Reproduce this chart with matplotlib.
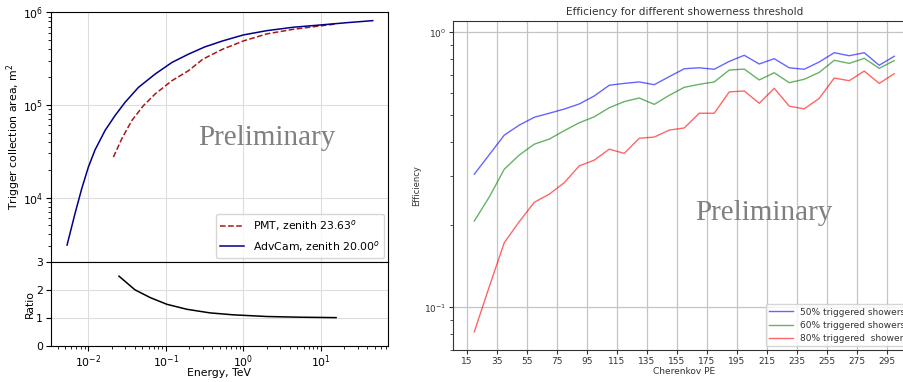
import matplotlib
matplotlib.use("Agg")
import matplotlib.pyplot as plt
import numpy as np

# ---------------- data: left panel ----------------
adv_energy = [0.00531, 0.00673, 0.00822, 0.0100, 0.01222, 0.01644, 0.0221, 0.0298,
              0.0443, 0.0728, 0.1197, 0.196, 0.316, 0.537, 1.007, 2.02, 4.46, 9.86,
              21.8, 47.0]
adv_area = [3069, 6730, 12500, 21300, 32800, 53000, 76700, 106700, 154500, 215300,
            287100, 353200, 421700, 489800, 570200, 633900, 690200, 729500, 772700,
            812800]
pmt_energy = [0.02104, 0.0270, 0.0364, 0.0514, 0.0728, 0.1197, 0.196, 0.302, 0.537,
              1.007, 2.02, 4.46, 9.86, 16.2]
pmt_area = [27350, 43050, 67800, 98200, 131200, 182400, 233900, 312600, 398100,
            490900, 584800, 656100, 712800, 749900]
ratio_energy = [0.0249, 0.040, 0.063, 0.103, 0.187, 0.373, 0.747, 2.02, 5.43, 15.8]
ratio_value = [2.5, 2.01, 1.73, 1.49, 1.31, 1.18, 1.11, 1.05, 1.025, 1.01]

# ---------------- data: right panel ----------------
pe = [20, 30, 40, 50, 60, 70, 80, 90, 100, 110, 120, 130, 140, 150, 160, 170, 180,
      190, 200, 210, 220, 230, 240, 250, 260, 270, 280, 290, 300]
eff50 = [0.305, 0.359, 0.423, 0.460, 0.491, 0.508, 0.526, 0.549, 0.587, 0.642, 0.652,
         0.660, 0.645, 0.690, 0.737, 0.743, 0.734, 0.784, 0.825, 0.767, 0.802, 0.743,
         0.734, 0.780, 0.843, 0.822, 0.843, 0.759, 0.818]
eff60 = [0.206, 0.252, 0.318, 0.358, 0.392, 0.409, 0.439, 0.469, 0.493, 0.532, 0.560,
         0.577, 0.547, 0.590, 0.631, 0.647, 0.660, 0.729, 0.735, 0.671, 0.713, 0.656,
         0.675, 0.715, 0.791, 0.771, 0.804, 0.740, 0.789]
eff80 = [0.0815, 0.119, 0.172, 0.205, 0.241, 0.258, 0.284, 0.327, 0.343, 0.376, 0.363,
         0.412, 0.416, 0.441, 0.449, 0.508, 0.508, 0.607, 0.612, 0.552, 0.626, 0.539,
         0.527, 0.575, 0.682, 0.667, 0.723, 0.652, 0.707]
pe_ticks = [15, 35, 55, 75, 95, 115, 135, 155, 175, 195, 215, 235, 255, 275, 295]

W, H = 904, 382
fig = plt.figure(figsize=(W / 100, H / 100), dpi=100)

def box(l, t, r, b):
    return [l / W, 1 - b / H, (r - l) / W, (b - t) / H]

FS = 7.8
# ---- left top ----
ax1 = fig.add_axes(box(50.7, 12.3, 388.3, 262.3))
ax1.plot(pmt_energy, pmt_area, color="#a81818", ls="--", lw=1.1,
         label="PMT, zenith 23.63$^o$")
ax1.plot(adv_energy, adv_area, color="#00008b", lw=1.1,
         label="AdvCam, zenith 20.00$^o$")
ax1.set_xscale("log")
ax1.set_yscale("log")
ax1.set_ylim(2e3, 1e6)
ax1.grid(True, color="#dddddd", lw=0.8)
ax1.set_ylabel("Trigger collection area, m$^2$", fontsize=FS, va="center")
ax1.yaxis.set_label_coords(-0.109, 0.5)
ax1.tick_params(labelsize=FS, labelbottom=False, pad=2)
ax1.legend(loc="lower right", fontsize=FS, handlelength=2.2, borderaxespad=0.4)
ax1.text(0.436, 0.497, "Preliminary", transform=ax1.transAxes, fontsize=21,
         family="Liberation Serif", color="#808080", ha="left", va="center")

# ---- left ratio ----
ax2 = fig.add_axes(box(50.7, 262.3, 388.3, 345.7), sharex=ax1)
ax2.plot(ratio_energy, ratio_value, color="black", lw=1.1)
ax2.set_ylim(0, 3)
ax2.set_yticks([0, 1, 2, 3])
ax2.grid(True, color="#dddddd", lw=0.8)
ax2.set_ylabel("Ratio", fontsize=FS, va="center")
ax2.yaxis.set_label_coords(-0.0613, 0.5)
ax2.set_xlabel("Energy, TeV", fontsize=FS, va="center")
ax2.xaxis.set_label_coords(0.5, -0.33)
ax2.tick_params(labelsize=FS, pad=2)
ax1.set_xlim(10 ** -2.486, 10 ** 1.873)

# ---- right ----
FS2 = 6.5
tc = "#333333"
ax3 = fig.add_axes(box(453.3, 20.7, 915.2, 350))
ax3.plot(pe, eff50, color="blue", alpha=0.6, lw=1.0, label="50% triggered showers")
ax3.plot(pe, eff60, color="green", alpha=0.6, lw=1.0, label="60% triggered showers")
ax3.plot(pe, eff80, color="red", alpha=0.6, lw=1.0, label="80% triggered  showers")
ax3.set_yscale("log")
ax3.set_ylim(0.070, 1.102)
ax3.set_xlim(6, 314)
ax3.set_xticks(pe_ticks)
ax3.grid(True, which="major", color="#c4c4c4", lw=0.9)
ax3.tick_params(labelsize=FS2, colors=tc, length=3, pad=2)
ax3.tick_params(which="minor", colors=tc, length=2)
for s in ax3.spines.values():
    s.set_color("#333333")
ax3.set_title("Efficiency for different showerness threshold", fontsize=7.6,
              color=tc, pad=4)
ax3.set_xlabel("Cherenkov PE", fontsize=FS2, color=tc, labelpad=1)
ax3.set_ylabel("Efficiency", fontsize=6, color=tc, va="center")
ax3.yaxis.set_label_coords(-0.0786, 0.5)
leg = ax3.legend(loc="lower right", fontsize=FS2, handlelength=2.6,
                 borderaxespad=0.4, labelspacing=0.45)
for t in leg.get_texts():
    t.set_color(tc)
ax3.text(0.523, 0.416, "Preliminary", transform=ax3.transAxes, fontsize=21,
         family="Liberation Serif", color="#808080", ha="left", va="center")

fig.savefig("out.png", dpi=100)
